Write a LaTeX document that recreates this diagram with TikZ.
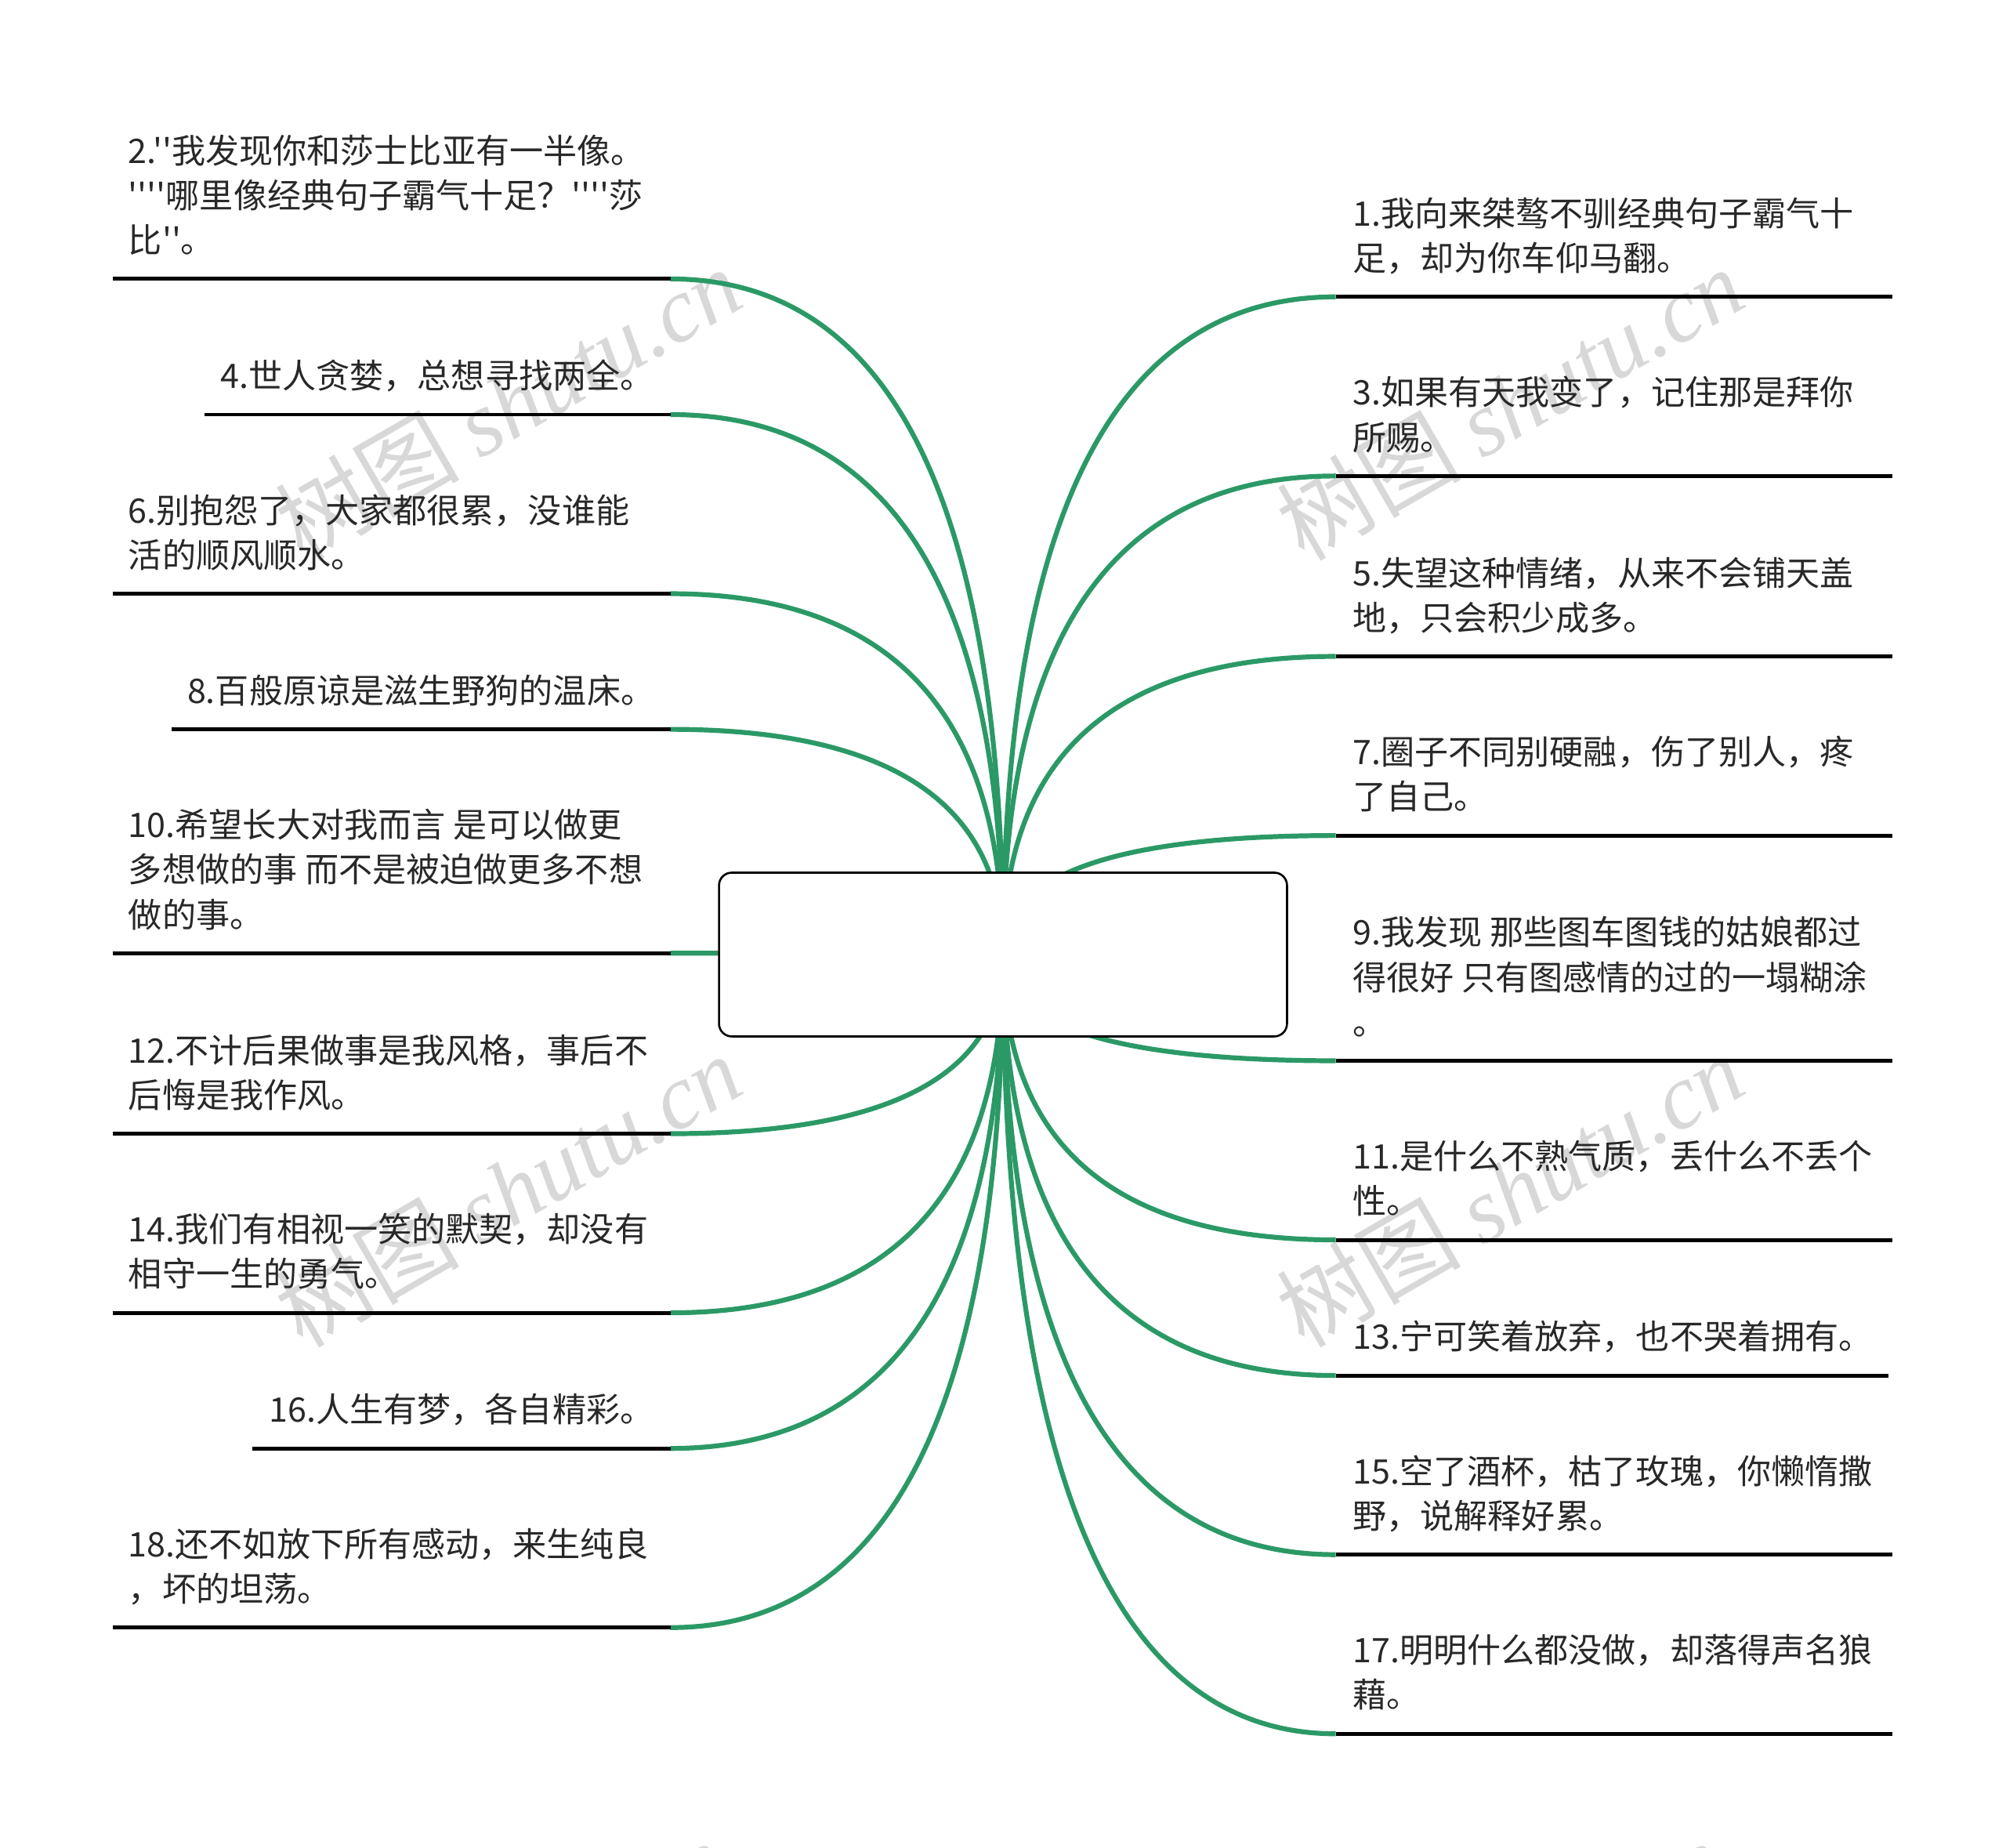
\documentclass[tikz,border=0pt]{standalone}
\usepackage{fontspec}
\newfontfamily\cjk{Noto Sans CJK SC}[Ligatures=TeXOff]
\newfontfamily\wmlat{Liberation Serif}
\usetikzlibrary{calc,backgrounds}
\definecolor{brgreen}{RGB}{43,153,102}
\definecolor{txtgray}{RGB}{40,40,40}
\definecolor{wmgray}{RGB}{216,216,216}
\begin{document}
\begin{tikzpicture}[x=0.5pt,y=-0.5pt,
  rootbox/.style={draw=black, line width=0.8pt, rounded corners=5pt, fill=white,
    minimum width=222pt, minimum height=64pt, inner sep=0pt},
  underline/.style={draw=black, line width=1.5pt},
  branch/.style={draw=brgreen, line width=1.9pt},
  label/.style={anchor=south west, inner sep=0pt, align=left, text=txtgray,
    font=\cjk\fontsize{13.2pt}{17.5pt}\selectfont},
  watermark/.style={rotate=30, text=wmgray, inner sep=0pt,
    font=\fontsize{36pt}{40pt}\selectfont}
]
\useasboundingbox (0,0) rectangle (1568,1444);

% root
\node[rootbox] (root) at (784,746) {};

% line coordinates: left side
\foreach \n/\xs/\y in {l2/88/218, l4/160/324, l6/88/464, l8/134/570, l10/88/745,
    l12/88/886, l14/88/1026, l16/197/1132, l18/88/1272}{
  \coordinate (s\n) at (\xs,\y);
  \coordinate (e\n) at (524,\y);
}
% right side
\foreach \n/\xs/\y in {r1/1479/232, r3/1479/372, r5/1479/513, r7/1479/653, r9/1479/829,
    r11/1479/969, r13/1476/1075, r15/1479/1215, r17/1479/1355}{
  \coordinate (s\n) at (\xs,\y);
  \coordinate (e\n) at (1044,\y);
}

\begin{scope}[on background layer]
  \foreach \i/\px/\py in {1/397/315, 2/1180/315, 3/397/930, 4/1180/930, 5/385/1545, 6/1165/1545}{
    \node[watermark] (wm\i) at (\px,\py) {\cjk 树图\ \wmlat\itshape shutu.cn};
  }
  \foreach \n in {l2,l4,l6,l8,l10,l12,l14,l16,l18,r1,r3,r5,r7,r9,r11,r13,r15,r17}{
    \draw[branch] (root.center) .. controls ($(root.center)!0.6667!(root.center |- e\n)$)
      and ($(e\n)!0.6667!(root.center |- e\n)$) .. (e\n);
  }
\end{scope}

\foreach \n in {l2,l4,l6,l8,l10,l12,l14,l16,l18,r1,r3,r5,r7,r9,r11,r13,r15,r17}{
  \draw[underline] (s\n) -- (e\n);
}

% labels left
\node[label] (tl2) at (100,208.5) {2.''我发现你和莎士比亚有一半像。\\''''哪里像经典句子霸气十足？''''莎\\比''。\strut};
\node[label] (tl4) at (172,314.5) {4.世人贪婪，总想寻找两全。\strut};
\node[label] (tl6) at (100,454.5) {6.别抱怨了，大家都很累，没谁能\\活的顺风顺水。\strut};
\node[label] (tl8) at (146,560.5) {8.百般原谅是滋生野狗的温床。\strut};
\node[label] (tl10) at (100,735.5) {10.希望长大对我而言 是可以做更\\多想做的事 而不是被迫做更多不想\\做的事。\strut};
\node[label] (tl12) at (100,876.5) {12.不计后果做事是我风格，事后不\\后悔是我作风。\strut};
\node[label] (tl14) at (100,1016.5) {14.我们有相视一笑的默契，却没有\\相守一生的勇气。\strut};
\node[label] (tl16) at (210,1122.5) {16.人生有梦，各自精彩。\strut};
\node[label] (tl18) at (100,1262.5) {18.还不如放下所有感动，来生纯良\\，坏的坦荡。\strut};

% labels right
\node[label] (tr1) at (1057,222.5) {1.我向来桀骜不驯经典句子霸气十\\足，却为你车仰马翻。\strut};
\node[label] (tr3) at (1057,362.5) {3.如果有天我变了，记住那是拜你\\所赐。\strut};
\node[label] (tr5) at (1057,503.5) {5.失望这种情绪，从来不会铺天盖\\地，只会积少成多。\strut};
\node[label] (tr7) at (1057,643.5) {7.圈子不同别硬融，伤了别人，疼\\了自己。\strut};
\node[label] (tr9) at (1057,819.5) {9.我发现 那些图车图钱的姑娘都过\\得很好 只有图感情的过的一塌糊涂\\。\strut};
\node[label] (tr11) at (1057,959.5) {11.是什么不熟气质，丢什么不丢个\\性。\strut};
\node[label] (tr13) at (1057,1065.5) {13.宁可笑着放弃，也不哭着拥有。\strut};
\node[label] (tr15) at (1057,1205.5) {15.空了酒杯，枯了玫瑰，你懒惰撒\\野，说解释好累。\strut};
\node[label] (tr17) at (1057,1345.5) {17.明明什么都没做，却落得声名狼\\藉。\strut};
\end{tikzpicture}
\end{document}
